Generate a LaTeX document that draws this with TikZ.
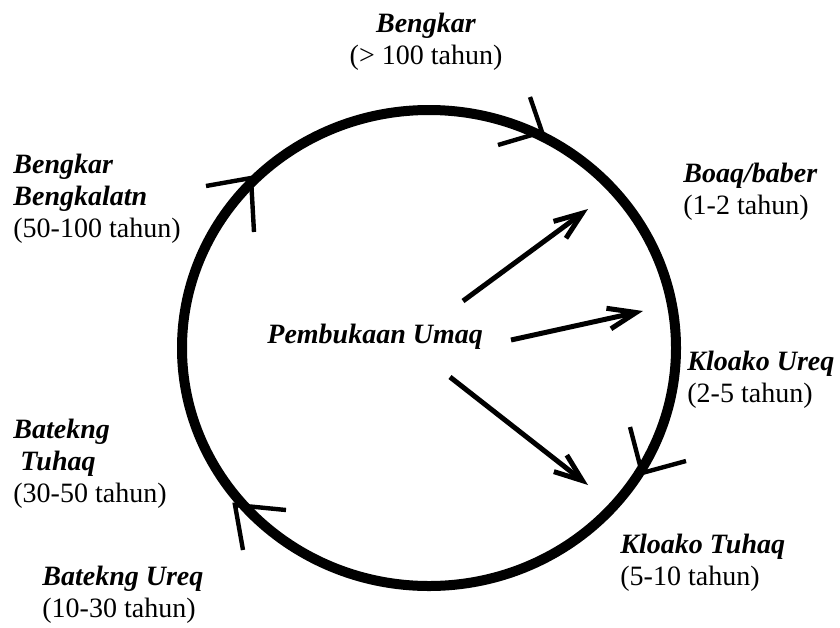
\documentclass[tikz,border=0pt]{standalone}
\usepackage{fontspec}
\setmainfont{Liberation Serif}
\usetikzlibrary{arrows.meta}
\begin{document}
\begin{tikzpicture}[x=0.5pt,y=-0.5pt,
  lbl/.style={inner sep=0pt, anchor=base west, font=\fontsize{14}{16}\selectfont},
  ring/.style={line width=5pt},
  barb/.style={line width=2.2pt},
  ray/.style={line width=2.5pt, -{Straight Barb[length=14pt,width=10.5pt]}}]
\useasboundingbox (0,0) rectangle (840,627);

% cycle ring
\draw[ring] (429,348) ellipse [x radius=247, y radius=238];

% arrow marks on the ring (clockwise)
\coordinate (m1t) at (542,132); \coordinate (m1a) at (530,97);  \coordinate (m1b) at (498,145);
\coordinate (m2t) at (251,178); \coordinate (m2a) at (206,186); \coordinate (m2b) at (254,232);
\coordinate (m3t) at (642,473); \coordinate (m3a) at (630,427); \coordinate (m3b) at (686,461);
\coordinate (m4t) at (235,505); \coordinate (m4a) at (286,510); \coordinate (m4b) at (243,550);
\draw[barb] (m1a) -- (m1t) -- (m1b);
\draw[barb] (m2a) -- (m2t) -- (m2b);
\draw[barb] (m3a) -- (m3t) -- (m3b);
\draw[barb] (m4a) -- (m4t) -- (m4b);

% labels
\node[lbl, anchor=base] (bengkar) at (426,32)
  {\begin{tabular}[t]{@{}c@{}}\textbf{\textit{Bengkar}}\\(> 100 tahun)\end{tabular}};
\node[lbl] (bengkal) at (13,173)
  {\begin{tabular}[t]{@{}l@{}}\textbf{\textit{Bengkar}}\\\textbf{\textit{Bengkalatn}}\\(50-100 tahun)\end{tabular}};
\node[lbl] (boaq) at (683,182)
  {\begin{tabular}[t]{@{}l@{}}\textbf{\textit{Boaq/baber}}\\(1-2 tahun)\end{tabular}};
\node[lbl] (kureq) at (687,370)
  {\begin{tabular}[t]{@{}l@{}}\textbf{\textit{Kloako Ureq}}\\(2-5 tahun)\end{tabular}};
\node[lbl] (ktuhaq) at (620,553)
  {\begin{tabular}[t]{@{}l@{}}\textbf{\textit{Kloako Tuhaq}}\\(5-10 tahun)\end{tabular}};
\node[lbl] (btuhaq) at (13,438)
  {\begin{tabular}[t]{@{}l@{}}\textbf{\textit{Batekng}}\\\ \textbf{\textit{Tuhaq}}\\(30-50 tahun)\end{tabular}};
\node[lbl] (bureq) at (42,585)
  {\begin{tabular}[t]{@{}l@{}}\textbf{\textit{Batekng Ureq}}\\(10-30 tahun)\end{tabular}};
\node[lbl] (pembukaan) at (267,343) {\textbf{\textit{Pembukaan Umaq}}};

% rays from the clearing
\coordinate (s1) at (463,301); \coordinate (t1) at (588,209);
\coordinate (s2) at (511,340); \coordinate (t2) at (643,311);
\coordinate (s3) at (450,377); \coordinate (t3) at (588,485);
\draw[ray] (s1) -- (t1);
\draw[ray] (s2) -- (t2);
\draw[ray] (s3) -- (t3);
\end{tikzpicture}
\end{document}
